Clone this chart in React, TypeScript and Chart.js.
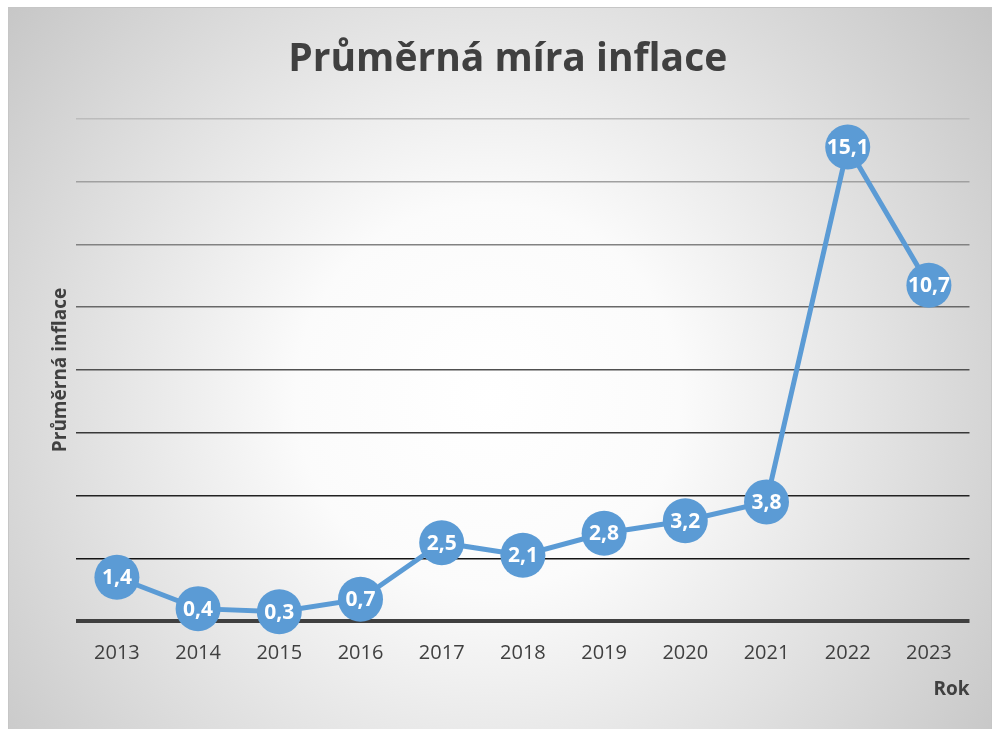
import React, { useEffect, useRef } from "react";
import { Chart, registerables } from "chart.js";

Chart.register(...registerables);

const years = ["2013", "2014", "2015", "2016", "2017", "2018", "2019", "2020", "2021", "2022", "2023"];
const inflation = [1.4, 0.4, 0.3, 0.7, 2.5, 2.1, 2.8, 3.2, 3.8, 15.1, 10.7];
const titleText = "Průměrná míra inflace";
const yTitle = "Průměrná inflace";
const xTitle = "Rok";

const gridColors: Record<number, string> = {
  0: "#404040",
  2: "#141414",
  4: "#222222",
  6: "#383838",
  8: "#505050",
  10: "#686868",
  12: "#828282",
  14: "#a0a0a0",
  16: "#bcbcbc",
};

const FONT = "'Open Sans', sans-serif";

const bgPlugin = {
  id: "bg",
  beforeDraw(chart: any) {
    const { ctx, width, height } = chart;
    ctx.save();
    const g = ctx.createRadialGradient(480, 390, 0, 480, 390, 640);
    g.addColorStop(0, "#ffffff");
    g.addColorStop(0.3, "#fbfbfb");
    g.addColorStop(1, "#c4c4c4");
    ctx.fillStyle = g;
    ctx.fillRect(0, 0, width, height);
    ctx.strokeStyle = "#c6c6c6";
    ctx.lineWidth = 1;
    ctx.strokeRect(0.5, 0.5, width - 1, height + 5);
    ctx.restore();
  },
};

const labelPlugin = {
  id: "pointLabels",
  afterDatasetsDraw(chart: any) {
    const { ctx } = chart;
    const meta = chart.getDatasetMeta(0);
    ctx.save();
    ctx.fillStyle = "#ffffff";
    ctx.font = `bold 21px ${FONT}`;
    ctx.textAlign = "center";
    ctx.textBaseline = "middle";
    meta.data.forEach((pt: any, i: number) => {
      const v = inflation[i].toFixed(1).replace(".", ",");
      ctx.fillText(v, pt.x, pt.y + 1);
    });
    ctx.restore();
  },
};

export default function App() {
  const ref = useRef<HTMLCanvasElement | null>(null);
  useEffect(() => {
    if (!ref.current) return;
    const chart = new Chart(ref.current, {
      type: "line",
      data: {
        labels: years,
        datasets: [
          {
            data: inflation,
            borderColor: "#5b9bd5",
            backgroundColor: "#5b9bd5",
            borderWidth: 5,
            pointRadius: 22.5,
            pointHoverRadius: 22.5,
            pointBackgroundColor: "#5b9bd5",
            pointBorderWidth: 0,
            tension: 0,
            clip: false as any,
          },
        ],
      },
      options: {
        animation: false,
        responsive: false,
        layout: { padding: { left: 37.5, right: 22, top: 0, bottom: 25 } },
        plugins: {
          legend: { display: false },
          tooltip: { enabled: false },
          title: {
            display: true,
            text: titleText,
            color: "#404040",
            font: { family: FONT, size: 39, weight: "bold" },
            padding: { top: 29, bottom: 36 },
          },
        },
        scales: {
          x: {
            offset: true,
            grid: { display: false, drawTicks: false },
            border: { display: false },
            ticks: { color: "#404040", font: { family: FONT, size: 20 }, padding: 20 },
            title: {
              display: true,
              text: xTitle,
              align: "end",
              color: "#404040",
              font: { family: FONT, size: 19, weight: "bold" },
              padding: { top: -7, bottom: 3 },
            },
          },
          y: {
            min: 0,
            max: 16,
            ticks: { stepSize: 2, display: false },
            border: { display: false },
            grid: {
              drawTicks: false,
              color: (c: any) => gridColors[c.tick?.value] ?? "#888888",
              lineWidth: (c: any) => (c.tick?.value === 0 ? 4 : 1.5),
            },
            title: {
              display: true,
              text: yTitle,
              color: "#404040",
              font: { family: FONT, size: 19, weight: "bold" },
              padding: { top: 4, bottom: 4 },
            },
          },
        },
      },
      plugins: [bgPlugin, labelPlugin],
    });
    return () => chart.destroy();
  }, []);
  return (
    <div style={{ position: "fixed", left: 8, top: 7, width: 984, height: 722 }}>
      <canvas ref={ref} width={984} height={722} style={{ display: "block" }} />
    </div>
  );
}
